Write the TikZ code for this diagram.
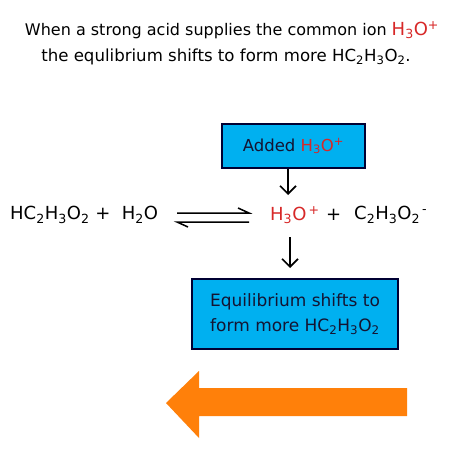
\documentclass[tikz,border=0pt]{standalone}
\usepackage{fontspec}
\setmainfont{DejaVu Sans}
\usetikzlibrary{arrows.meta}
\definecolor{boxcyan}{RGB}{0,176,240}
\definecolor{chemred}{RGB}{215,40,40}
\definecolor{arrorange}{RGB}{255,128,10}
\definecolor{textnavy}{RGB}{20,20,50}
\tikzset{
  x=1pt, y=-1pt,
  title/.style={inner sep=0pt, font=\fontsize{16}{18}\selectfont},
  chem/.style={inner sep=0pt, font=\fontsize{18}{20}\selectfont, anchor=west},
  bluebox/.style={draw=black!80!blue, line width=1.2pt, fill=boxcyan, inner sep=0pt, align=center, text=textnavy},
  downarr/.style={line width=1.6pt, -{Straight Barb[length=8pt,width=16pt,line width=1.6pt]}},
  eqline/.style={line width=1.5pt},
}
\begin{document}
\begin{tikzpicture}
\useasboundingbox (0,0) rectangle (474,452);
% title
\node[title] (t1) at (232,30) {When a strong acid supplies the common ion \textcolor{chemred}{\fontsize{18}{18}\selectfont H\textsubscript{3}O\textsuperscript{+}}};
\node[title, font=\fontsize{16.6}{18}\selectfont] (t2) at (226,57) {the equlibrium shifts to form more HC\textsubscript{2}H\textsubscript{3}O\textsubscript{2}.};
% box 1
\node[bluebox, minimum width=143pt, minimum height=44pt, font=\fontsize{16.5}{18}\selectfont] (b1) at (293.5,146) {Added \textcolor{chemred}{H\textsubscript{3}O\textsuperscript{+}}};
% equation
\node[chem] (r) at (10,215) {HC\textsubscript{2}H\textsubscript{3}O\textsubscript{2}\ +\ \ H\textsubscript{2}O};
\node[chem, text=chemred] (h3o) at (270,215) {H\textsubscript{3}O\textsuperscript{\,+}};
\node[chem] (pl) at (326,215) {+};
\node[chem] (ac) at (354,215) {C\textsubscript{2}H\textsubscript{3}O\textsubscript{2}\textsuperscript{\,-}};
\coordinate (ea) at (177,213);
\coordinate (eb) at (249,213);
\coordinate (ec) at (249,222);
\coordinate (ed) at (177,222);
\draw[eqline] (ea) -- (eb) -- ++(-11,-5);
\draw[eqline] (ec) -- (ed) -- ++(11,5);
% box 2
\node[bluebox, minimum width=206pt, minimum height=70pt, font=\fontsize{17}{25}\selectfont] (b2) at (295,314) {Equilibrium shifts to\\form more HC\textsubscript{2}H\textsubscript{3}O\textsubscript{2}};
% down arrows
\coordinate (d1) at (288,195);
\draw[downarr] (b1.south -| d1) -- (d1);
\coordinate (u2) at (290,237);
\coordinate (d2) at (290,268);
\draw[downarr] (u2) -- (d2);
% orange arrow
\fill[arrorange] (407,388) -- (199,388) -- (199,371) -- (166,403) -- (199,438) -- (199,416) -- (407,416) -- cycle;
\end{tikzpicture}
\end{document}
